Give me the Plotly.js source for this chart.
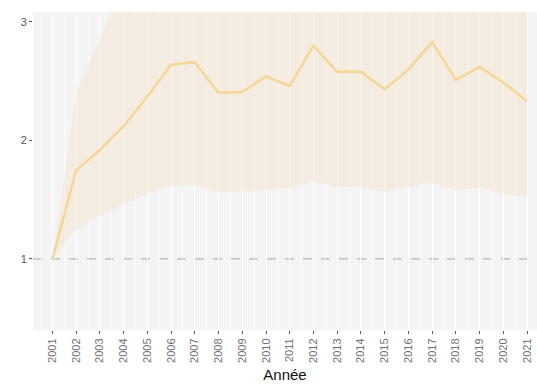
<!DOCTYPE html>
<html>
<head>
<meta charset="utf-8">
<script src="https://cdn.plot.ly/plotly-3.0.1.min.js"></script>
<style>html,body{margin:0;padding:0;background:#fff;}#chart{width:537px;height:387px;}</style>
</head>
<body>
<div id="chart"></div>
<script>
const years = [2001,2002,2003,2004,2005,2006,2007,2008,2009,2010,2011,2012,2013,2014,2015,2016,2017,2018,2019,2020,2021];
const indexValue = [1.0,1.75,1.92,2.12,2.37,2.64,2.66,2.40,2.41,2.54,2.46,2.80,2.58,2.58,2.43,2.60,2.83,2.51,2.62,2.49,2.33];
const lowerBound = [1.0,1.25,1.36,1.46,1.55,1.62,1.62,1.56,1.57,1.58,1.60,1.65,1.61,1.60,1.57,1.61,1.65,1.58,1.60,1.55,1.52];
const upperBound = [1.0,2.40,2.85,3.35,3.60,3.85,3.90,3.70,3.75,3.85,3.80,4.05,3.90,3.90,3.80,3.95,4.10,3.85,3.95,3.85,3.70];
const yTicks = [1,2,3];
const refLine = 1;

const traces = [
  {x: years, y: lowerBound, type: 'scatter', mode: 'lines', line: {width: 0, color: 'rgba(0,0,0,0)'}, hoverinfo: 'skip', showlegend: false},
  {x: years, y: upperBound, type: 'scatter', mode: 'lines', fill: 'tonexty', fillcolor: 'rgba(245,222,185,0.33)', line: {width: 0, color: 'rgba(0,0,0,0)'}, hoverinfo: 'skip', showlegend: false},
  {x: years, y: indexValue, type: 'scatter', mode: 'lines', line: {color: '#F7D592', width: 2.4}, showlegend: false}
];

const layout = {
  width: 537, height: 387,
  margin: {l: 33, r: 0, t: 12, b: 57},
  paper_bgcolor: '#ffffff',
  plot_bgcolor: '#F4F4F4',
  showlegend: false,
  xaxis: {
    range: [2000.18, 2021.42],
    tickmode: 'array', tickvals: years, ticktext: years.map(String),
    tickangle: -90,
    tickfont: {family: 'Liberation Sans, Arial, sans-serif', size: 11, color: '#707070'},
    ticks: 'outside', ticklen: 3, tickcolor: '#555555', tickwidth: 1,
    showgrid: true, gridcolor: '#FFFFFF', gridwidth: 1,
    minor: {dtick: 0.5, tick0: 2000.5, showgrid: true, gridcolor: '#FFFFFF', gridwidth: 0.6},
    zeroline: false, showline: false,
    title: {text: 'Année', font: {family: 'Liberation Sans, Arial, sans-serif', size: 15, color: '#111111'}, standoff: 7}
  },
  yaxis: {
    range: [0.40, 3.084],
    tickmode: 'array', tickvals: yTicks, ticktext: yTicks.map(String),
    tickfont: {family: 'Liberation Sans, Arial, sans-serif', size: 11, color: '#555555'},
    ticks: 'outside', ticklen: 3, tickcolor: '#555555', tickwidth: 1,
    showgrid: false, zeroline: false, showline: false
  },
  shapes: [
    {type: 'line', xref: 'paper', x0: 0, x1: 1, yref: 'y', y0: refLine, y1: refLine, line: {color: '#A8A8A8', width: 1, dash: 'dash'}, layer: 'below'}
  ]
};

Plotly.newPlot('chart', traces, layout, {displayModeBar: false, staticPlot: true});
</script>
</body>
</html>
